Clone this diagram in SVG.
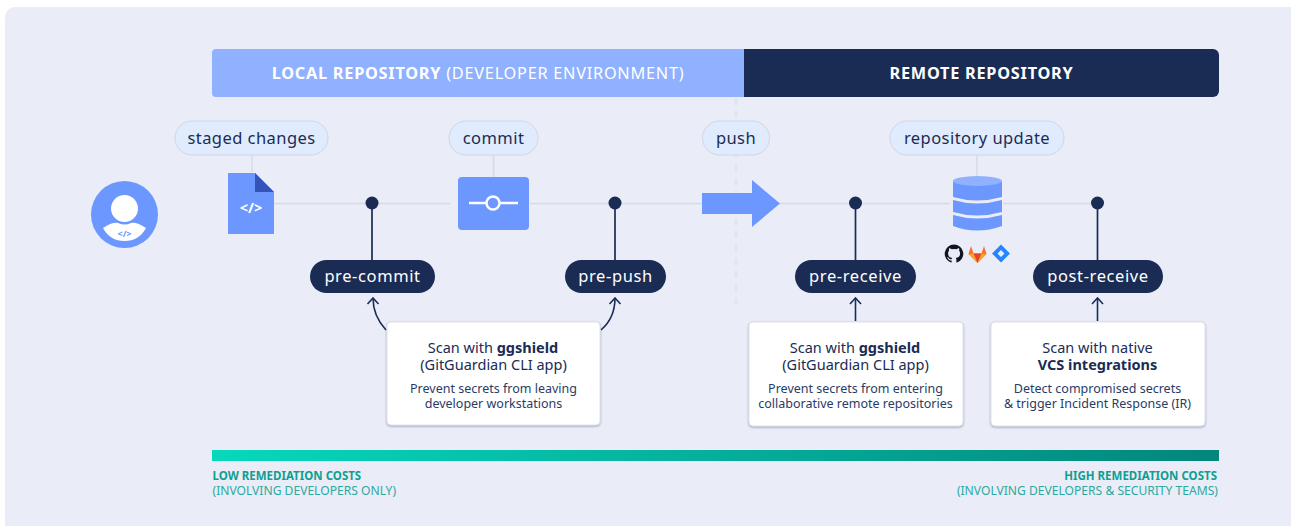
<svg xmlns="http://www.w3.org/2000/svg" width="1291" height="526" viewBox="0 0 1291 526">
<defs>
<linearGradient id="cost" x1="0" x2="1" y1="0" y2="0"><stop offset="0" stop-color="#07d8bb"/><stop offset="1" stop-color="#03867c"/></linearGradient>
<filter id="sh" x="-5%" y="-5%" width="110%" height="112%"><feDropShadow dx="0" dy="1" stdDeviation="1" flood-color="#1a2c54" flood-opacity="0.4"/></filter>
<marker id="ah" viewBox="0 0 10 14" refX="8.500" refY="7" markerWidth="10" markerHeight="14" markerUnits="userSpaceOnUse" orient="auto"><path d="M2.500 1.500 L8.500 7 L2.500 12.500" fill="none" stroke="#1a2c54" stroke-width="1.600"/></marker>
</defs>
<style>
text{font-family:"Noto Sans","Open Sans","DejaVu Sans",sans-serif;text-anchor:middle}
.top{font-size:16.300px;letter-spacing:.75px;fill:#fff}
.lab{font-size:16.500px;fill:#1a2c54;letter-spacing:.45px}
.dark{font-size:16.500px;fill:#fff;letter-spacing:.6px}
.chip{fill:#e0ebfd;stroke:#cfd6e6;stroke-width:1}
.pill{fill:#1a2c54}
.card{fill:#fff;stroke:#d8dce8;stroke-width:.8;filter:url(#sh)}
.t1{font-size:14.500px;fill:#1a2c54}
.t2{font-size:12.500px;fill:#2a3c66}
.stem{stroke:#1a2c54;stroke-width:1.700;fill:none}
.thin{stroke:#d6dbe8;stroke-width:1.600;fill:none}
.arr{stroke:#1a2c54;stroke-width:1.600;fill:none;marker-end:url(#ah)}
.blue{fill:#6b97fe}
.cost{font-size:11.500px;fill:#0f9e93;text-anchor:start}
.cost2{font-size:12.100px;fill:#2aa9a0;text-anchor:start}
.end{text-anchor:end}
</style>
<rect x="5" y="7" width="1300" height="530" rx="10" fill="#eaedf7"/>
<g id="banner">
<path d="M744 49H1213a6 6 0 0 1 6 6V91a6 6 0 0 1-6 6H744Z" fill="#1a2c54"/>
<path d="M216 49H744V97H216a4 4 0 0 1-4-4V53a4 4 0 0 1 4-4Z" fill="#8fb1ff"/>
<text class="top" x="478" y="79"><tspan font-weight="700">LOCAL REPOSITORY</tspan> (DEVELOPER ENVIRONMENT)</text>
<text class="top" x="981.500" y="79" font-weight="700">REMOTE REPOSITORY</text>
</g>
<g id="connectors">
<path class="thin" d="M274 203.500H450M530 203.500H702M780 203.500H950M1003 203.500H1097"/>
<path class="thin" d="M252 155V172M493.500 155V177M977 155V176"/>
<path d="M736 98V304" fill="none" stroke="#e0e4ef" stroke-width="2.500" stroke-dasharray="7 6.300"/>
<path class="stem" d="M372 203V262M615 203V262M855.500 203V262M1097.500 203V262"/>
<circle cx="372" cy="203" r="6.500" fill="#1a2c54"/>
<circle cx="615" cy="203" r="6.500" fill="#1a2c54"/>
<circle cx="855.500" cy="203" r="6.500" fill="#1a2c54"/>
<circle cx="1097.500" cy="203" r="6.500" fill="#1a2c54"/>
<path class="arr" d="M386 330Q373 316 373 298"/>
<path class="arr" d="M601 330Q615 318 615 298"/>
<path class="arr" d="M855.500 321V298"/>
<path class="arr" d="M1097.500 321V298"/>
</g>
<g id="developer">
<circle cx="124.500" cy="214.500" r="33.500" class="blue"/>
<circle cx="124.500" cy="208.500" r="13.500" fill="#fff"/>
<path d="M103 228Q112 222 118 223Q124.500 226 131 223Q137 222 146 228Q139 241 124.500 241Q110 241 103 228Z" fill="#fff"/>
<text x="124.500" y="236.500" font-size="9" font-weight="700" fill="#6b97fe">&lt;/&gt;</text>
</g>
<g id="staged-changes">
<rect class="chip" x="175" y="121" width="153" height="34" rx="17"/>
<text class="lab" x="251.500" y="144">staged changes</text>
<path class="blue" d="M228 173H255L274 192V234H228Z"/>
<path d="M255 173L274 192H255Z" fill="#3353b8"/>
<text x="251" y="213" font-size="14.500" font-weight="700" fill="#fff">&lt;/&gt;</text>
</g>
<g id="commit">
<rect class="chip" x="449" y="121" width="89" height="34" rx="17"/>
<text class="lab" x="493.500" y="144">commit</text>
<rect class="blue" x="458" y="177" width="71" height="53" rx="4"/>
<path d="M469 203H486M500 203H518" stroke="#fff" stroke-width="2.500"/>
<circle cx="493" cy="203" r="6.500" fill="none" stroke="#fff" stroke-width="2.500"/>
</g>
<g id="push">
<rect class="chip" x="702.500" y="121" width="67" height="34" rx="17"/>
<text class="lab" x="736" y="144">push</text>
<path class="blue" d="M702 193H752V180L780 203.500L752 227V214H702Z"/>
</g>
<g id="repository-update">
<rect class="chip" x="890" y="121" width="174" height="34" rx="17"/>
<text class="lab" x="977" y="144">repository update</text>
<path class="blue" d="M953 181V197Q977 204 1002 197V181Z"/>
<path class="blue" d="M953 200V212Q977 219 1002 212V200Q977 207 953 200Z"/>
<path class="blue" d="M953 215V226Q977 235 1002 226V215Q977 222 953 215Z"/>
<ellipse cx="977.500" cy="181" rx="24.500" ry="5" fill="#8fb1ff"/>
<path fill="#10151f" fill-rule="evenodd" d="M954 244.500a9.300 9.300 0 0 0-3 18.100c.5.100.6-.2.600-.4v-1.800c-2.600.6-3.100-1.100-3.100-1.100-.4-1.100-1-1.400-1-1.400-.9-.6.100-.6.100-.6.900.1 1.400 1 1.400 1 .8 1.400 2.200 1 2.700.8.100-.6.300-1 .6-1.200-2.100-.2-4.200-1-4.200-4.600 0-1 .4-1.900 1-2.500-.1-.2-.4-1.200.1-2.500 0 0 .8-.3 2.600 1a9 9 0 0 1 4.600 0c1.800-1.300 2.600-1 2.600-1 .5 1.300.2 2.300.1 2.500.6.600 1 1.500 1 2.500 0 3.600-2.200 4.400-4.300 4.600.3.300.6.800.6 1.700v2.600c0 .2.100.5.600.4A9.300 9.300 0 0 0 954 244.500Z"/>
<path fill="#fc6d26" d="M968.500 254L971 246L973.500 253.500H981.500L984 246L986.500 254L977.500 263Z"/>
<path fill="#e24329" d="M973.500 253.500H981.500L977.500 263Z"/>
<path fill="#fca326" d="M968.500 254L973.500 253.500L977.500 263ZM986.500 254L981.500 253.500L977.500 263Z"/>
<path fill="#2684ff" fill-rule="evenodd" d="M1001 244.500L1010 253.500L1001 262.500L992 253.500ZM1001 250L997.500 253.500L1001 257L1004.500 253.500Z"/>
</g>
<g id="pre-commit"><rect class="pill" x="310" y="260" width="125" height="33" rx="16.500"/><text class="dark" x="372.500" y="282">pre-commit</text></g>
<g id="pre-push"><rect class="pill" x="565" y="260" width="101" height="33" rx="16.500"/><text class="dark" x="615.500" y="282">pre-push</text></g>
<g id="pre-receive"><rect class="pill" x="795" y="260" width="121" height="33" rx="16.500"/><text class="dark" x="855.500" y="282">pre-receive</text></g>
<g id="post-receive"><rect class="pill" x="1033" y="260" width="130" height="33" rx="16.500"/><text class="dark" x="1098" y="282">post-receive</text></g>
<g id="card-local">
<rect class="card" x="387" y="322" width="213" height="103" rx="4"/>
<text class="t1" x="493" y="353">Scan with <tspan font-weight="700">ggshield</tspan></text>
<text class="t1" x="493.500" y="370">(GitGuardian CLI app)</text>
<text class="t2" x="493.500" y="393">Prevent secrets from leaving</text>
<text class="t2" x="493.500" y="408">developer workstations</text>
</g>
<g id="card-pre-receive">
<rect class="card" x="749" y="322" width="214" height="104" rx="4"/>
<text class="t1" x="855" y="353">Scan with <tspan font-weight="700">ggshield</tspan></text>
<text class="t1" x="855.500" y="370">(GitGuardian CLI app)</text>
<text class="t2" x="855.500" y="393">Prevent secrets from entering</text>
<text class="t2" x="855.500" y="408">collaborative remote repositories</text>
</g>
<g id="card-post-receive">
<rect class="card" x="991" y="322" width="214" height="104" rx="4"/>
<text class="t1" x="1097.500" y="353">Scan with native</text>
<text class="t1" x="1097.500" y="370" font-weight="700">VCS integrations</text>
<text class="t2" x="1097.500" y="393">Detect compromised secrets</text>
<text class="t2" x="1097.500" y="408">&amp; trigger Incident Response (IR)</text>
</g>
<g id="cost-bar">
<rect x="212" y="450" width="1007" height="11" fill="url(#cost)"/>
<text class="cost" x="212.500" y="480" font-weight="700">LOW REMEDIATION COSTS</text>
<text class="cost2" x="212.500" y="495">(INVOLVING DEVELOPERS ONLY)</text>
<text class="cost end" x="1217" y="480" font-weight="700">HIGH REMEDIATION COSTS</text>
<text class="cost2 end" x="1218" y="495">(INVOLVING DEVELOPERS &amp; SECURITY TEAMS)</text>
</g>
</svg>
